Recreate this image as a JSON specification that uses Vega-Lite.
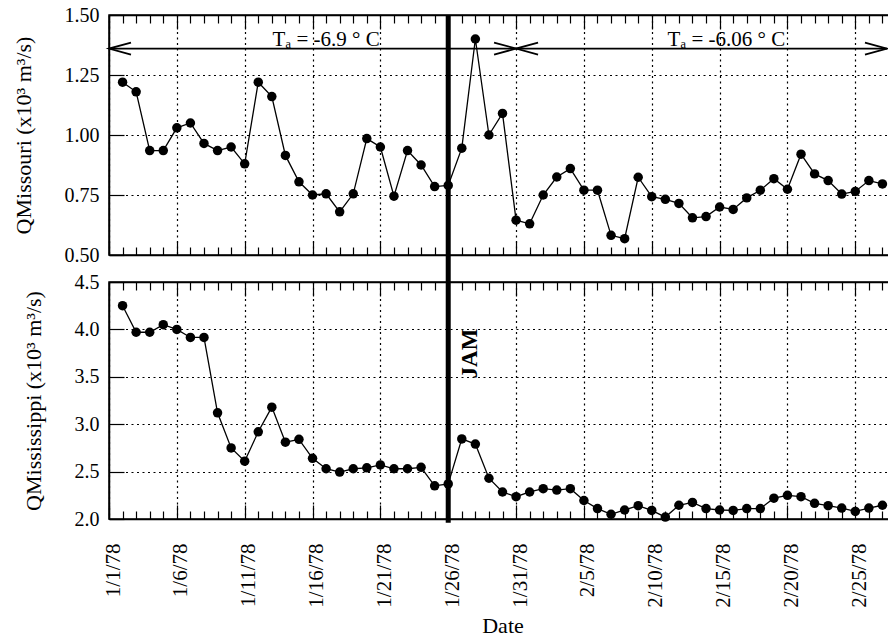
{
  "$schema": "https://vega.github.io/schema/vega-lite/v6.json",
  "background": "white",
  "padding": {"left": 11, "top": 4, "right": 0, "bottom": 0},
  "bounds": "flush",
  "spacing": 27,
  "config": {
    "font": "Liberation Serif",
    "view": {"stroke": "black", "strokeWidth": 1.5},
    "axis": {
      "domainColor": "black", "domainWidth": 1.5,
      "tickColor": "black", "tickWidth": 1.2,
      "gridColor": "black", "gridDash": [2, 3.5], "gridWidth": 1.2,
      "labelFont": "Liberation Serif", "labelFontSize": 21, "labelColor": "black",
      "titleFont": "Liberation Serif", "titleFontSize": 22, "titleFontWeight": "normal", "titleColor": "black",
      "labelOverlap": false, "labelFlush": false
    }
  },
  "datasets": {
    "missouri": [
      {"date": "1978-01-02", "q": 1.22}, {"date": "1978-01-03", "q": 1.18}, {"date": "1978-01-04", "q": 0.935},
      {"date": "1978-01-05", "q": 0.935}, {"date": "1978-01-06", "q": 1.03}, {"date": "1978-01-07", "q": 1.05},
      {"date": "1978-01-08", "q": 0.965}, {"date": "1978-01-09", "q": 0.935}, {"date": "1978-01-10", "q": 0.95},
      {"date": "1978-01-11", "q": 0.88}, {"date": "1978-01-12", "q": 1.22}, {"date": "1978-01-13", "q": 1.16},
      {"date": "1978-01-14", "q": 0.915}, {"date": "1978-01-15", "q": 0.805}, {"date": "1978-01-16", "q": 0.75},
      {"date": "1978-01-17", "q": 0.755}, {"date": "1978-01-18", "q": 0.68}, {"date": "1978-01-19", "q": 0.755},
      {"date": "1978-01-20", "q": 0.985}, {"date": "1978-01-21", "q": 0.95}, {"date": "1978-01-22", "q": 0.745},
      {"date": "1978-01-23", "q": 0.935}, {"date": "1978-01-24", "q": 0.875}, {"date": "1978-01-25", "q": 0.785},
      {"date": "1978-01-26", "q": 0.79}, {"date": "1978-01-27", "q": 0.945}, {"date": "1978-01-28", "q": 1.40},
      {"date": "1978-01-29", "q": 1.00}, {"date": "1978-01-30", "q": 1.09}, {"date": "1978-01-31", "q": 0.645},
      {"date": "1978-02-01", "q": 0.63}, {"date": "1978-02-02", "q": 0.75}, {"date": "1978-02-03", "q": 0.825},
      {"date": "1978-02-04", "q": 0.86}, {"date": "1978-02-05", "q": 0.77}, {"date": "1978-02-06", "q": 0.77},
      {"date": "1978-02-07", "q": 0.582}, {"date": "1978-02-08", "q": 0.568}, {"date": "1978-02-09", "q": 0.824},
      {"date": "1978-02-10", "q": 0.743}, {"date": "1978-02-11", "q": 0.732}, {"date": "1978-02-12", "q": 0.715},
      {"date": "1978-02-13", "q": 0.655}, {"date": "1978-02-14", "q": 0.66}, {"date": "1978-02-15", "q": 0.70},
      {"date": "1978-02-16", "q": 0.69}, {"date": "1978-02-17", "q": 0.738}, {"date": "1978-02-18", "q": 0.77},
      {"date": "1978-02-19", "q": 0.818}, {"date": "1978-02-20", "q": 0.774}, {"date": "1978-02-21", "q": 0.92},
      {"date": "1978-02-22", "q": 0.838}, {"date": "1978-02-23", "q": 0.81}, {"date": "1978-02-24", "q": 0.754},
      {"date": "1978-02-25", "q": 0.765}, {"date": "1978-02-26", "q": 0.81}, {"date": "1978-02-27", "q": 0.796}
    ],
    "mississippi": [
      {"date": "1978-01-02", "q": 4.25}, {"date": "1978-01-03", "q": 3.97}, {"date": "1978-01-04", "q": 3.97},
      {"date": "1978-01-05", "q": 4.05}, {"date": "1978-01-06", "q": 4.00}, {"date": "1978-01-07", "q": 3.915},
      {"date": "1978-01-08", "q": 3.915}, {"date": "1978-01-09", "q": 3.12}, {"date": "1978-01-10", "q": 2.75},
      {"date": "1978-01-11", "q": 2.61}, {"date": "1978-01-12", "q": 2.92}, {"date": "1978-01-13", "q": 3.18},
      {"date": "1978-01-14", "q": 2.81}, {"date": "1978-01-15", "q": 2.84}, {"date": "1978-01-16", "q": 2.64},
      {"date": "1978-01-17", "q": 2.53}, {"date": "1978-01-18", "q": 2.495}, {"date": "1978-01-19", "q": 2.53},
      {"date": "1978-01-20", "q": 2.54}, {"date": "1978-01-21", "q": 2.57}, {"date": "1978-01-22", "q": 2.53},
      {"date": "1978-01-23", "q": 2.53}, {"date": "1978-01-24", "q": 2.545}, {"date": "1978-01-25", "q": 2.35},
      {"date": "1978-01-26", "q": 2.37}, {"date": "1978-01-27", "q": 2.845}, {"date": "1978-01-28", "q": 2.79},
      {"date": "1978-01-29", "q": 2.43}, {"date": "1978-01-30", "q": 2.285}, {"date": "1978-01-31", "q": 2.235},
      {"date": "1978-02-01", "q": 2.285}, {"date": "1978-02-02", "q": 2.32}, {"date": "1978-02-03", "q": 2.305},
      {"date": "1978-02-04", "q": 2.32}, {"date": "1978-02-05", "q": 2.195}, {"date": "1978-02-06", "q": 2.11},
      {"date": "1978-02-07", "q": 2.05}, {"date": "1978-02-08", "q": 2.095}, {"date": "1978-02-09", "q": 2.14},
      {"date": "1978-02-10", "q": 2.09}, {"date": "1978-02-11", "q": 2.02}, {"date": "1978-02-12", "q": 2.145},
      {"date": "1978-02-13", "q": 2.175}, {"date": "1978-02-14", "q": 2.11}, {"date": "1978-02-15", "q": 2.095},
      {"date": "1978-02-16", "q": 2.09}, {"date": "1978-02-17", "q": 2.11}, {"date": "1978-02-18", "q": 2.11},
      {"date": "1978-02-19", "q": 2.22}, {"date": "1978-02-20", "q": 2.25}, {"date": "1978-02-21", "q": 2.235},
      {"date": "1978-02-22", "q": 2.165}, {"date": "1978-02-23", "q": 2.14}, {"date": "1978-02-24", "q": 2.115},
      {"date": "1978-02-25", "q": 2.08}, {"date": "1978-02-26", "q": 2.115}, {"date": "1978-02-27", "q": 2.145}
    ],
    "jam": [{"date": "1978-01-26", "label": "JAM"}],
    "arrows": [
      {"start": "1978-01-01", "end": "1978-01-31", "y": 1.36},
      {"start": "1978-01-31", "end": "1978-02-27T08:00:00Z", "y": 1.36}
    ],
    "heads": [
      {"date": "1978-01-01", "y": 1.36, "dir": "left"},
      {"date": "1978-01-31", "y": 1.36, "dir": "right"},
      {"date": "1978-01-31", "y": 1.36, "dir": "left"},
      {"date": "1978-02-27T08:00:00Z", "y": 1.36, "dir": "right"}
    ],
    "temps": [
      {"date": "1978-01-17", "y": 1.372, "label": "Tₐ = -6.9 ° C"},
      {"date": "1978-02-15T12:00:00Z", "y": 1.372, "label": "Tₐ = -6.06 ° C"}
    ]
  },
  "vconcat": [
    {
      "width": 787,
      "height": 240,
      "resolve": {"axis": {"x": "independent"}},
      "layer": [
        {
          "data": {"name": "missouri"},
          "mark": {"type": "line", "color": "black", "strokeWidth": 1.3},
          "encoding": {
            "x": {"field": "date", "type": "temporal",
              "scale": {"type": "utc", "domain": [{"year": 1978, "month": 1, "date": 1, "utc": true}, {"year": 1978, "month": 2, "date": 28, "utc": true}], "nice": false},
              "axis": {"orient": "bottom", "title": null, "labels": false,
                "tickCount": {"interval": "day", "step": 1},
                "tickSize": {"condition": {"test": "round((datum.value - utc(1978,0,1)) / 86400000) % 5 === 0", "value": -14}, "value": -8},
                "grid": true,
                "gridOpacity": {"condition": {"test": "round((datum.value - utc(1978,0,1)) / 86400000) % 5 === 0", "value": 1}, "value": 0}}},
            "y": {"field": "q", "type": "quantitative",
              "scale": {"domain": [0.5, 1.5], "nice": false, "zero": false},
              "axis": {"orient": "left", "values": [0.5, 0.75, 1, 1.25, 1.5], "format": ".2f", "tickSize": -15, "labelPadding": 25, "labelFontSize": 20,
                "title": "QMissouri (x10³ m³/s)", "titlePadding": 29, "grid": true}}
          }
        },
        {
          "data": {"name": "missouri"},
          "mark": {"type": "point", "filled": true, "color": "black", "size": 90, "opacity": 1},
          "encoding": {
            "x": {"field": "date", "type": "temporal",
              "axis": {"orient": "top", "title": null, "labels": false,
                "tickCount": {"interval": "day", "step": 1},
                "tickSize": {"condition": {"test": "round((datum.value - utc(1978,0,1)) / 86400000) % 5 === 0", "value": -14}, "value": -8},
                "grid": false}},
            "y": {"field": "q", "type": "quantitative"}
          }
        },
        {
          "data": {"name": "jam"},
          "mark": {"type": "rule", "color": "black", "strokeWidth": 5},
          "encoding": {
            "x": {"field": "date", "type": "temporal", "axis": null},
            "y": {"datum": 1.5},
            "y2": {"datum": 0.385}
          }
        },
        {
          "data": {"name": "arrows"},
          "mark": {"type": "rule", "color": "black", "strokeWidth": 1.6},
          "encoding": {
            "x": {"field": "start", "type": "temporal", "axis": null},
            "x2": {"field": "end"},
            "y": {"field": "y", "type": "quantitative"}
          }
        },
        {
          "data": {"name": "heads"},
          "mark": {"type": "point", "filled": false, "color": "black", "strokeWidth": 1.8, "size": 484, "opacity": 1},
          "encoding": {
            "x": {"field": "date", "type": "temporal", "axis": null},
            "y": {"field": "y", "type": "quantitative"},
            "shape": {"field": "dir", "type": "nominal",
              "scale": {"domain": ["left", "right"], "range": ["M2,-0.55L0,0L2,0.55", "M-2,-0.55L0,0L-2,0.55"]},
              "legend": null}
          }
        },
        {
          "data": {"name": "temps"},
          "mark": {"type": "text", "color": "black", "font": "Liberation Serif", "fontSize": 21, "align": "center", "baseline": "alphabetic"},
          "encoding": {
            "x": {"field": "date", "type": "temporal", "axis": null},
            "y": {"field": "y", "type": "quantitative"},
            "text": {"field": "label"}
          }
        }
      ]
    },
    {
      "width": 787,
      "height": 237,
      "resolve": {"axis": {"x": "independent"}},
      "layer": [
        {
          "data": {"name": "mississippi"},
          "mark": {"type": "line", "color": "black", "strokeWidth": 1.3},
          "encoding": {
            "x": {"field": "date", "type": "temporal",
              "scale": {"type": "utc", "domain": [{"year": 1978, "month": 1, "date": 1, "utc": true}, {"year": 1978, "month": 2, "date": 28, "utc": true}], "nice": false},
              "axis": {"orient": "bottom", "title": "Date", "titlePadding": 8,
                "tickCount": {"interval": "day", "step": 1},
                "labelExpr": "round((datum.value - utc(1978,0,1)) / 86400000) % 5 === 0 ? utcFormat(datum.value, '%-m/%-d/%y') : ''",
                "labelAngle": -90, "labelAlign": "right", "labelBaseline": "middle", "labelPadding": 38, "labelOffset": 4,
                "tickSize": {"condition": {"test": "round((datum.value - utc(1978,0,1)) / 86400000) % 5 === 0", "value": -14}, "value": -8},
                "grid": true,
                "gridOpacity": {"condition": {"test": "round((datum.value - utc(1978,0,1)) / 86400000) % 5 === 0", "value": 1}, "value": 0}}},
            "y": {"field": "q", "type": "quantitative",
              "scale": {"domain": [2.0, 4.5], "nice": false, "zero": false},
              "axis": {"orient": "left", "values": [2.0, 2.5, 3.0, 3.5, 4.0, 4.5], "format": ".1f", "tickSize": -15, "labelPadding": 25, "labelFontSize": 20,
                "title": "QMississippi (x10³ m³/s)", "titlePadding": 29, "grid": true}}
          }
        },
        {
          "data": {"name": "mississippi"},
          "mark": {"type": "point", "filled": true, "color": "black", "size": 90, "opacity": 1},
          "encoding": {
            "x": {"field": "date", "type": "temporal",
              "axis": {"orient": "top", "title": null, "labels": false,
                "tickCount": {"interval": "day", "step": 1},
                "tickSize": {"condition": {"test": "round((datum.value - utc(1978,0,1)) / 86400000) % 5 === 0", "value": -14}, "value": -8},
                "grid": false}},
            "y": {"field": "q", "type": "quantitative"}
          }
        },
        {
          "data": {"name": "jam"},
          "mark": {"type": "rule", "color": "black", "strokeWidth": 5},
          "encoding": {
            "x": {"field": "date", "type": "temporal", "axis": null},
            "y": {"datum": 4.5},
            "y2": {"datum": 1.96}
          }
        },
        {
          "data": {"name": "jam"},
          "mark": {"type": "text", "color": "black", "font": "Liberation Serif", "fontSize": 23, "fontWeight": "bold", "angle": -90, "align": "center", "baseline": "middle", "dy": 22},
          "encoding": {
            "x": {"field": "date", "type": "temporal", "axis": null},
            "y": {"datum": 3.745},
            "text": {"field": "label"}
          }
        }
      ]
    }
  ]
}
